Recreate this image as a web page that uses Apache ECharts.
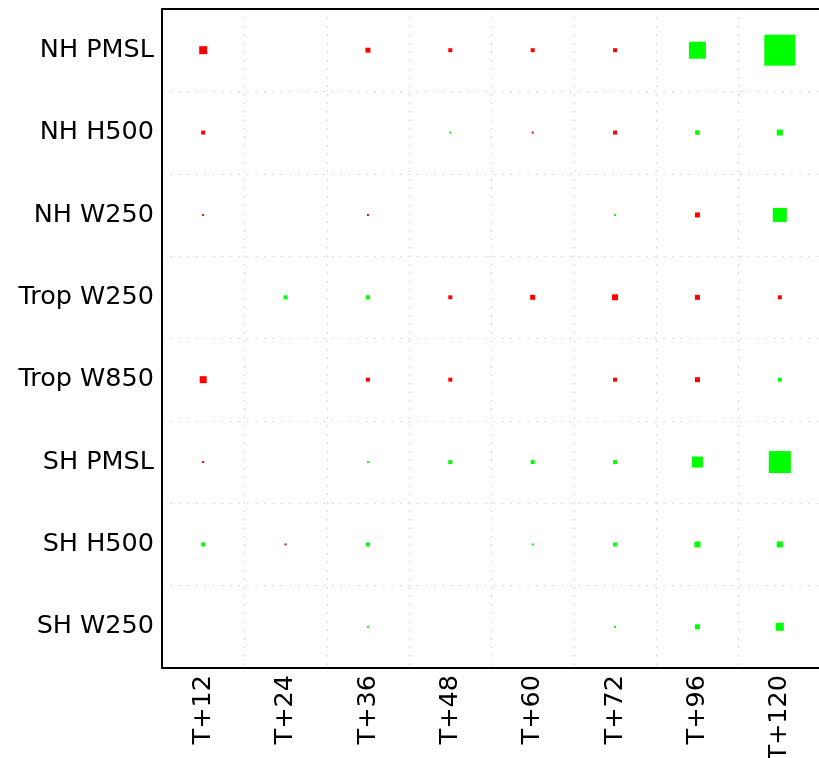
<!DOCTYPE html>
<html>
<head>
<meta charset="utf-8">
<script src="https://cdn.jsdelivr.net/npm/echarts@6/dist/echarts.min.js"></script>
<style>html,body{margin:0;padding:0;background:#fff;overflow:hidden;}#c{width:819px;height:758px;}</style>
</head>
<body>
<div id="c"></div>
<script>
// Forecast lead times (columns)
var leadTimes = ['T+12','T+24','T+36','T+48','T+60','T+72','T+96','T+120'];
// Parameters (rows, top to bottom)
var params = ['NH PMSL','NH H500','NH W250','Trop W250','Trop W850','SH PMSL','SH H500','SH W250'];
// Signed marker sizes per row: positive = green, negative = red, 0 = none
var nhPmsl   = [-8, 0, -5, -4, -4, -4, 17, 31];
var nhH500   = [-4, 0, 0, 2, -2, -4, 4.5, 6];
var nhW250   = [-2, 0, -2, 0, 0, 2, -5, 14];
var tropW250 = [0, 4, 4, -4, -5, -6, -5, -4];
var tropW850 = [-7, 0, -4, -4, 0, -4, -5, 4];
var shPmsl   = [-2, 0, 2, 4, 4, 4, 11, 22];
var shH500   = [4, -2, 4, 0, 2, 4, 6, 6];
var shW250   = [0, 0, 2, 0, 0, 2, 5, 8];

var rows = [nhPmsl, nhH500, nhW250, tropW250, tropW850, shPmsl, shH500, shW250];
var data = [];
rows.forEach(function (r, ri) {
  r.forEach(function (v, ci) {
    if (v !== 0) data.push([leadTimes[ci], params[ri], v]);
  });
});

var chart = echarts.init(document.getElementById('c'), null, {renderer: 'canvas'});
var font = 'DejaVu Sans';
var gridLine = {show: true, showMinLine: false, showMaxLine: false, lineStyle: {color: '#d0d0d0', type: [1.5, 7], width: 1.2}};
chart.setOption({
  animation: false,
  backgroundColor: '#fff',
  grid: {left: 162, top: 9, width: 659, height: 659, outerBoundsMode: 'none', containLabel: false},
  xAxis: [{
    type: 'category', data: leadTimes, boundaryGap: true,
    axisLine: {show: true, lineStyle: {color: '#000', width: 2}},
    axisTick: {show: false},
    axisLabel: {rotate: 90, margin: 7, color: '#000', fontFamily: font, fontSize: 25.5},
    splitLine: gridLine
  }, {
    type: 'category', data: leadTimes, position: 'top',
    axisLine: {show: true, onZero: false, lineStyle: {color: '#000', width: 2}},
    axisTick: {show: false}, axisLabel: {show: false}, splitLine: {show: false}
  }],
  yAxis: [{
    type: 'category', data: params, inverse: true, boundaryGap: true,
    axisLine: {show: true, lineStyle: {color: '#000', width: 2}},
    axisTick: {show: false},
    axisLabel: {margin: 8, color: '#000', fontFamily: font, fontSize: 25.5},
    splitLine: gridLine
  }],
  series: [{
    type: 'scatter',
    symbol: 'rect',
    data: data,
    symbolSize: function (v) { return Math.abs(v[2]); },
    itemStyle: {
      opacity: 1,
      color: function (p) { return p.data[2] > 0 ? '#00ff00' : '#ff0000'; }
    }
  }]
});
</script>
</body>
</html>
